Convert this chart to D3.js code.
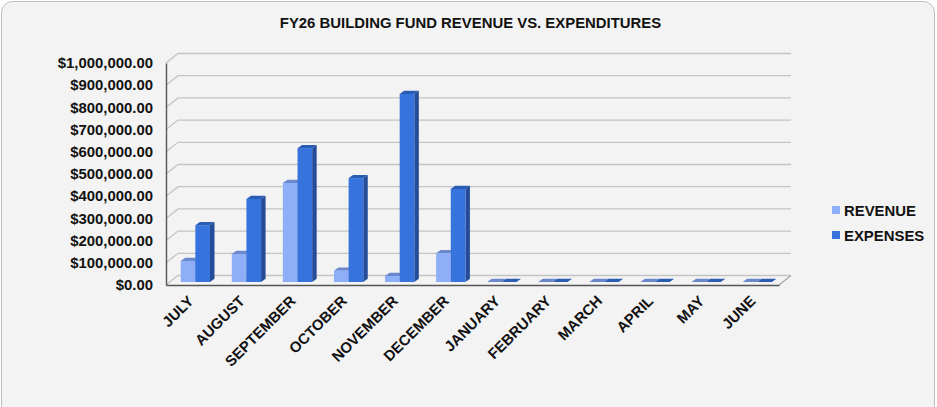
<!DOCTYPE html>
<html>
<head>
<meta charset="utf-8">
<title>FY26 Building Fund Revenue vs. Expenditures</title>
<script src="https://d3js.org/d3.v7.min.js"></script>
<style>
html, body {margin:0; padding:0; background:#fff; overflow:hidden}
svg {display:block; font-family:"Liberation Sans", Arial, sans-serif; font-weight:bold}
</style>
</head>
<body>
<svg width="937" height="407"></svg>
<script>
var months = ["JULY", "AUGUST", "SEPTEMBER", "OCTOBER", "NOVEMBER", "DECEMBER", "JANUARY", "FEBRUARY", "MARCH", "APRIL", "MAY", "JUNE"];
var revenue = [95000, 126000, 446000, 51000, 27000, 130000, 0, 0, 0, 0, 0, 0];
var expenses = [256000, 374000, 603000, 468000, 847000, 419000, 0, 0, 0, 0, 0, 0];
var seriesNames = ["REVENUE", "EXPENSES"];
var tickValues = [0, 100000, 200000, 300000, 400000, 500000, 600000, 700000, 800000, 900000, 1000000];

var svg = d3.select("svg");
var depthX = 12, depthY = 9.5;   // back wall offset from the front plane

var x = d3.scaleBand().domain(months).range([166, 779]);
var y = d3.scaleLinear().domain([0, 1000000]).range([285, 63]);
var inner = d3.scaleBand().domain(seriesNames).range([14.7, 44]);
var fmt = d3.format("$,.2f");

// panel
svg.append("rect")
  .attr("x", 1.5).attr("y", 1.5)
  .attr("width", 933).attr("height", 420)
  .attr("rx", 11)
  .attr("fill", "#f3f3f3")
  .attr("stroke", "#bdbdbd")
  .attr("stroke-width", 1);

svg.append("text")
  .attr("x", 470.5).attr("y", 28)
  .attr("text-anchor", "middle")
  .style("font-size", "14.9px")
  .attr("fill", "#111")
  .text("FY26 BUILDING FUND REVENUE VS. EXPENDITURES");

// grid: side wall diagonal plus back wall line
var grid = svg.append("g").attr("fill", "none").attr("stroke", "#c4c4c4").attr("stroke-width", 1.3);
grid.selectAll("path")
  .data(tickValues)
  .enter()
  .append("path")
  .attr("d", function(d) {
    var p = d3.path();
    p.moveTo(x.range()[0], y(d));
    p.lineTo(x.range()[0] + depthX, y(d) - depthY);
    p.lineTo(x.range()[1] + depthX, y(d) - depthY);
    return p.toString();
  });

// floor, right edge
grid.append("path")
  .attr("d", "M" + x.range()[1] + "," + y(0) + "L" + (x.range()[1] + depthX) + "," + (y(0) - depthY))
  .attr("stroke", "#a8a8a8");

// bars
var barDx = 3, barDy = 3, sideW = 4.5, topH = 3.2;
function drawBars(values, name, front, side, top) {
  var g = svg.append("g");
  var w = inner.bandwidth();
  var data = months.map(function(m, i) { return {month: m, value: values[i]}; });
  function left(d) { return x(d.month) + inner(name); }
  function baseY() { return y(0) - barDy; }
  function topY(d) { return y(d.value) - barDy; }

  g.selectAll("path.top").data(data).enter().append("path")
    .attr("class", "top")
    .attr("fill", top)
    .attr("d", function(d) {
      var l = left(d), t = topY(d);
      return "M" + l + "," + t + "L" + (l + sideW) + "," + (t - topH) + "L" + (l + w + sideW) + "," + (t - topH) + "L" + (l + w) + "," + t + "Z";
    });
  g.selectAll("path.side").data(data).enter().append("path")
    .attr("class", "side")
    .attr("fill", side)
    .attr("d", function(d) {
      var r = left(d) + w, t = topY(d);
      return "M" + r + "," + t + "L" + (r + sideW) + "," + (t - topH) + "L" + (r + sideW) + "," + (baseY() - topH) + "L" + r + "," + baseY() + "Z";
    });
  g.selectAll("rect").data(data).enter().append("rect")
    .attr("x", left)
    .attr("y", topY)
    .attr("width", w)
    .attr("height", function(d) { return baseY() - topY(d); })
    .attr("fill", front);
}
drawBars(revenue, "REVENUE", "#8eaef8", "#5f7cc4", "#6c88cc");
drawBars(expenses, "EXPENSES", "#3673dc", "#254c98", "#2b5cb4");

// axes
var yAxis = d3.axisLeft(y).tickValues(tickValues).tickFormat(fmt).tickSize(0).tickPadding(13);
var yG = svg.append("g").attr("transform", "translate(" + x.range()[0] + ",0)").call(yAxis);
yG.select(".domain").attr("stroke", "#555").attr("stroke-width", 1.4);
yG.selectAll("text")
  .style("font", "bold 14.9px 'Liberation Sans', Arial, sans-serif")
  .attr("fill", "#111");

var xAxis = d3.axisBottom(x).tickSize(0).tickPadding(0);
var xG = svg.append("g").attr("transform", "translate(0," + y(0) + ")").call(xAxis);
xG.select(".domain").attr("stroke", "#555").attr("stroke-width", 1.4);
xG.selectAll("text")
  .style("font", "bold 14.9px 'Liberation Sans', Arial, sans-serif")
  .attr("fill", "#111")
  .attr("text-anchor", "end")
  .attr("dy", 0)
  .attr("y", 0)
  .attr("transform", "translate(3,17) rotate(-45)");

// legend
var legend = svg.append("g").selectAll("g")
  .data(seriesNames)
  .enter()
  .append("g")
  .attr("transform", function(d, i) { return "translate(832," + (206 + i * 25) + ")"; });
legend.append("rect")
  .attr("width", 8).attr("height", 8)
  .attr("fill", function(d, i) { return ["#8eaef8", "#3673dc"][i]; });
legend.append("text")
  .attr("x", 12).attr("y", 9.5)
  .style("font-size", "14.9px")
  .attr("fill", "#111")
  .text(function(d) { return d; });
</script>
</body>
</html>
